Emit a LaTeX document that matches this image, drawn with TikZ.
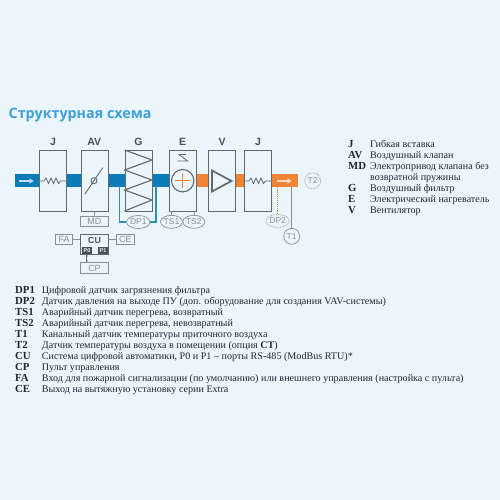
\documentclass[tikz,border=0pt]{standalone}
\usepackage{fontspec}
\setmainfont{Liberation Serif}
\newfontfamily\hsans{Liberation Sans}
\newfontfamily\ttl{Open Sans}
\usetikzlibrary{shapes.geometric,arrows.meta}
\definecolor{bgc}{HTML}{EAF5FD}
\definecolor{gry}{HTML}{63686E}
\definecolor{lgry}{HTML}{8A8F94}
\definecolor{dgry}{HTML}{4D5156}
\definecolor{duB}{HTML}{0A7DB8}
\definecolor{tubec}{HTML}{2C8FB4}
\definecolor{duO}{HTML}{EE8434}
\definecolor{ttlc}{HTML}{3FA0D8}
\definecolor{txt}{HTML}{24282C}
\tikzset{
 x=1pt,y=-1pt,
 unitbox/.style={draw=gry,fill=bgc,line width=1.1pt,minimum width=27.3pt,minimum height=61pt,inner sep=0pt,anchor=north west},
 head/.style={font=\hsans\bfseries\fontsize{10.5}{11}\selectfont,text=dgry,inner sep=0pt},
 smallbox/.style={draw=lgry,line width=0.8pt,fill=bgc,font=\hsans\fontsize{9}{9}\selectfont,text=lgry,inner sep=0pt,minimum height=10pt},
 sensor/.style={ellipse,draw=lgry,line width=0.7pt,fill=bgc,font=\hsans\fontsize{8.5}{9}\selectfont,text=lgry,inner sep=0pt,minimum height=13pt},
 dsensor/.style={sensor,densely dotted},
 conn/.style={draw=lgry,line width=0.8pt},
 tube/.style={draw=tubec,line width=1.2pt},
 key/.style={font=\bfseries\fontsize{10.8}{11}\selectfont,text=txt,inner sep=0pt,anchor=base west},
 val/.style={font=\fontsize{10.1}{11}\selectfont,text=txt,inner sep=0pt,anchor=base west},
 port/.style={fill=dgry,font=\hsans\bfseries\fontsize{5.5}{6}\selectfont,text=bgc,inner sep=0pt,minimum width=10.6pt,minimum height=7.3pt},
}
\begin{document}
\begin{tikzpicture}
\fill[bgc] (0,0) rectangle (500,500);
\useasboundingbox (0,0) rectangle (500,500);
\node[anchor=base west,inner sep=0pt,text=ttlc,font=\ttl\bfseries\fontsize{14.3}{15}\selectfont] (title) at (8.5,118.5) {Структурная схема};
% duct
\fill[duB] (15,174.3) rectangle (38.7,187.3);
\fill[duB] (66,174.3) rectangle (169,187.3);
\fill[duO] (196.3,174.3) rectangle (243.7,187.3);
\fill[duO] (271,174.3) rectangle (298,187.3);
% boxes
\node[unitbox] (j1) at (38.7,150) {};
\node[unitbox] (av) at (80.7,150) {};
\node[unitbox] (g) at (124.6,150) {};
\node[unitbox] (e) at (169,150) {};
\node[unitbox] (v) at (207.7,150) {};
\node[unitbox] (j2) at (243.7,150) {};
\node[head] (hj1) at (53,142.3) {J};
\node[head] (hav) at (94.3,142.3) {AV};
\node[head] (hg) at (138.5,142.3) {G};
\node[head] (he) at (182.5,142.3) {E};
\node[head] (hv) at (222,142.3) {V};
\node[head] (hj2) at (258,142.3) {J};
% arrows in duct
\draw[white!75!duB,line width=1.3pt,-{Latex[length=4.5pt,width=6pt]}] (19,181) -- (34,181);
\draw[white!70!duO,line width=1.3pt,-{Latex[length=4.5pt,width=6pt]}] (277,181) -- (292,181);
% springs
\draw[gry,line width=0.8pt] (39,181) -- (44,181) -- (46,178) -- (48.5,183.5) -- (51,178) -- (53.5,183.5) -- (56,178) -- (58.5,183.5) -- (60.5,181) -- (66,181);
\draw[gry,line width=0.8pt] (244,181) -- (249,181) -- (251,178) -- (253.5,183.5) -- (256,178) -- (258.5,183.5) -- (261,178) -- (263.5,183.5) -- (265.5,181) -- (271,181);
% damper
\draw[gry,line width=0.9pt] (85,194) -- (102.7,167.7);
\draw[gry,line width=0.9pt] (94,180.7) circle (3);
% filter zigzag
\draw[gry,line width=1.1pt] (124.6,150) -- (151.9,160) -- (124.6,170) -- (151.9,180) -- (124.6,190) -- (151.9,200) -- (124.6,211);
% heater
\draw[gry,line width=1.1pt,fill=bgc] (182.7,180.7) circle (11.2);
\draw[duO,line width=1.1pt] (175,180.7) -- (190.4,180.7) (182.7,173) -- (182.7,188.4);
\draw[gry,line width=0.8pt] (186,154.5) -- (179,154.5) -- (187.5,161) -- (177.5,161);
% fan
\draw[gry,line width=1.7pt] (212,170.5) -- (212,191.5) -- (231.5,181) -- cycle;
% MD
\node[smallbox,minimum width=27.3pt] (md) at (94.3,221) {MD};
\draw[conn] (av.south) -- (md.north);
% CU group
\node[draw=gry,line width=1pt,fill=bgc,minimum width=27.3pt,minimum height=20pt,inner sep=0pt,anchor=north] (cu) at (94.5,234) {};
\node[head,font=\hsans\bfseries\fontsize{8.8}{9}\selectfont] (cut) at (94.5,240) {CU};
\node[port] (p0) at (87,250.4) {P0};
\node[port] (p1) at (103,250.4) {P1};
\node[smallbox,minimum width=17pt] (fa) at (64.2,239.5) {FA};
\node[smallbox,minimum width=17.5pt] (ce) at (125.3,239.5) {CE};
\node[smallbox,minimum width=27.3pt,minimum height=10.6pt] (cp) at (94.5,268) {CP};
\draw[conn] (fa) -- (cu.west |- fa);
\draw[conn] (ce) -- (cu.east |- ce);
\coordinate (cpt) at (86.7,254.5);
\draw[draw=gry,line width=0.6pt,{Latex[length=1.8pt,width=2.5pt]}-{Latex[length=1.8pt,width=2.5pt]}] (cpt) -- (cpt |- cp.north);
% sensors
\coordinate (t1a) at (119.5,186);
\coordinate (t1b) at (156,186);
\node[sensor,minimum width=23.5pt] (dp1) at (138.3,222) {DP1};
\draw[tube] (t1a) |- (dp1.west);
\draw[tube] (t1b) |- (dp1.east);
\coordinate (ts1t) at (171,211);
\coordinate (ts2t) at (194.3,211);
\draw[conn] (ts1t) -- ++(0,5);
\draw[conn] (ts2t) -- ++(0,5);
\node[sensor,minimum width=21.5pt] (ts1) at (171.5,221.8) {TS1};
\node[sensor,minimum width=22pt] (ts2) at (193.8,221.8) {TS2};
\node[dsensor,minimum width=22pt] (dp2) at (277.7,221) {DP2};
\node[sensor,circle,minimum size=16pt] (t1) at (291.7,236.3) {T1};
\node[dsensor,circle,minimum size=16pt] (t2) at (312.7,180.7) {T2};
\coordinate (dp2t) at (277.7,187.3);
\coordinate (t1t) at (291.7,187.3);
\draw[duO,line width=1.1pt,densely dotted] (dp2t) -- (dp2.north);
\draw[conn] (t1t) -- (t1.north);
% right legend
\node[key] (kj) at (348,147) {J};
\node[val] (vj) at (370,147) {Гибкая вставка};
\node[key] (kav) at (348,158) {AV};
\node[val] (vav) at (370,158) {Воздушный клапан};
\node[key] (kmd) at (348,169) {MD};
\node[val] (vmd) at (370,169) {Электропривод клапана без};
\node[val] (vmd2) at (370,180) {возвратной пружины};
\node[key] (kg) at (348,191) {G};
\node[val] (vg) at (370,191) {Воздушный фильтр};
\node[key] (ke) at (348,202) {E};
\node[val] (ve) at (370,202) {Электрический нагреватель};
\node[key] (kv) at (348,213) {V};
\node[val] (vv) at (370,213) {Вентилятор};
% bottom legend
\node[key] (k1) at (15,293.6) {DP1};
\node[val] (v1) at (41.7,293.6) {Цифровой датчик загрязнения фильтра};
\node[key] (k2) at (15,304.6) {DP2};
\node[val] (v2) at (41.7,304.6) {Датчик давления на выходе ПУ (доп. оборудование для создания VAV-системы)};
\node[key] (k3) at (15,315.5) {TS1};
\node[val] (v3) at (41.7,315.5) {Аварийный датчик перегрева, возвратный};
\node[key] (k4) at (15,326.4) {TS2};
\node[val] (v4) at (41.7,326.4) {Аварийный датчик перегрева, невозвратный};
\node[key] (k5) at (15,337.3) {T1};
\node[val] (v5) at (41.7,337.3) {Канальный датчик температуры приточного воздуха};
\node[key] (k6) at (15,348.2) {T2};
\node[val] (v6) at (41.7,348.2) {Датчик температуры воздуха в помещении (опция \textbf{CT})};
\node[key] (k7) at (15,359.1) {CU};
\node[val] (v7) at (41.7,359.1) {Система цифровой автоматики, P0 и P1 – порты RS-485 (ModBus RTU)*};
\node[key] (k8) at (15,370) {CP};
\node[val] (v8) at (41.7,370) {Пульт управления};
\node[key] (k9) at (15,381) {FA};
\node[val] (v9) at (41.7,381) {Вход для пожарной сигнализации (по умолчанию) или внешнего управления (настройка с пульта)};
\node[key] (k10) at (15,392) {CE};
\node[val] (v10) at (41.7,392) {Выход на вытяжную установку серии Extra};
\end{tikzpicture}
\end{document}
